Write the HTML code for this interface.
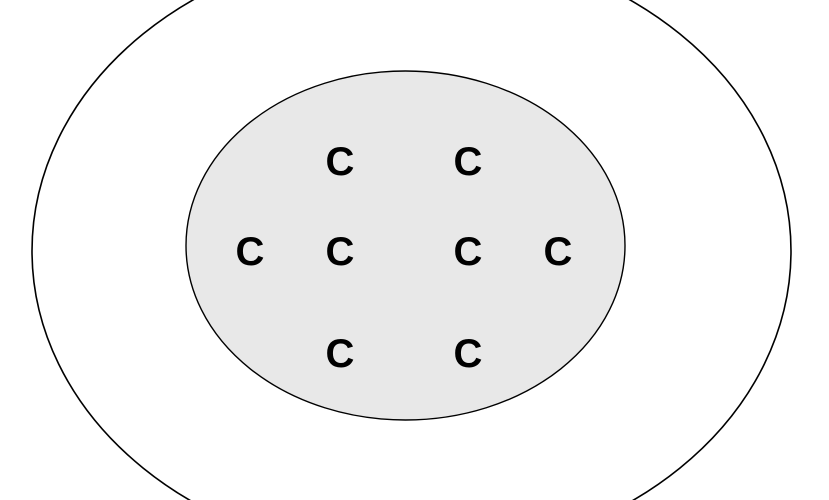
<!DOCTYPE html>
<html><head><meta charset="utf-8"><style>
html,body{margin:0;padding:0;background:#fff;width:829px;height:500px;overflow:hidden}
svg{display:block}
text{font-family:"Liberation Sans",Arial,sans-serif;font-weight:bold;font-size:40px;fill:#000}
</style></head><body>
<svg width="829" height="500" viewBox="0 0 829 500">
<ellipse cx="411.5" cy="251" rx="379.5" ry="307" fill="#fff" stroke="#000" stroke-width="1.6"/>
<ellipse cx="405.5" cy="245.5" rx="219.5" ry="174.5" fill="#e8e8e8" stroke="#000" stroke-width="1.4"/>
<g text-anchor="middle">
<text x="340" y="175">C</text>
<text x="468" y="175">C</text>
<text x="250" y="265">C</text>
<text x="340" y="265">C</text>
<text x="468" y="265">C</text>
<text x="558" y="265">C</text>
<text x="340" y="367">C</text>
<text x="468" y="367">C</text>
</g>
</svg>
</body></html>
